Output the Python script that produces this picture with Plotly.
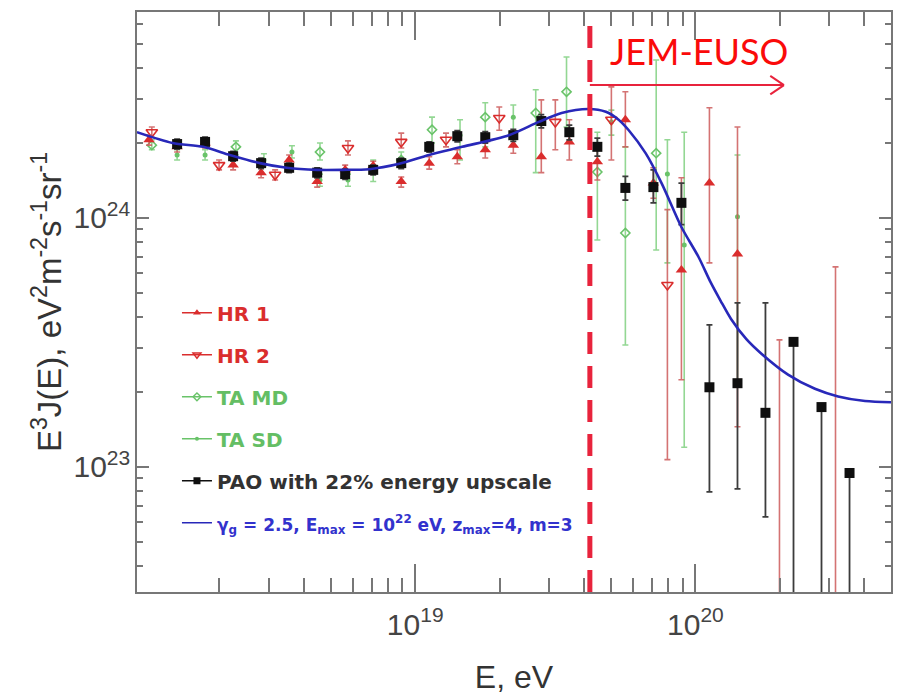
import plotly.graph_objects as go

# ---------------- data ----------------
# Pierre Auger (PAO, with 22% energy upscale)
E_PAO = [1.413e18, 1.778e18, 2.239e18, 2.818e18, 3.548e18, 4.467e18, 5.623e18, 7.079e18, 8.913e18,
         1.122e19, 1.413e19, 1.778e19, 2.239e19, 2.818e19, 3.548e19, 4.467e19, 5.623e19, 7.079e19,
         8.913e19, 1.122e20, 1.413e20, 1.778e20, 2.239e20, 2.818e20, 3.548e20]
J_PAO = [1.98e24, 2.02e24, 1.77e24, 1.66e24, 1.59e24, 1.52e24, 1.50e24, 1.56e24, 1.66e24,
         1.93e24, 2.13e24, 2.11e24, 2.15e24, 2.45e24, 2.21e24, 1.93e24, 1.32e24, 1.33e24,
         1.15e24, 2.09e23, 2.17e23, 1.65e23, 3.18e23, 1.74e23, 9.46e22]
HI_PAO = [2.07e24, 2.11e24, 1.85e24, 1.74e24, 1.66e24, 1.59e24, 1.57e24, 1.63e24, 1.74e24,
          2.02e24, 2.24e24, 2.22e24, 2.27e24, 2.60e24, 2.36e24, 2.09e24, 1.47e24, 1.56e24,
          1.38e24, 3.72e23, 4.56e23, 4.56e23, 3.18e23, 1.74e23, 9.46e22]
LO_PAO = [1.89e24, 1.93e24, 1.69e24, 1.58e24, 1.52e24, 1.45e24, 1.43e24, 1.49e24, 1.58e24,
          1.84e24, 2.02e24, 2.00e24, 2.03e24, 2.30e24, 2.06e24, 1.77e24, 1.18e24, 1.15e24,
          9.40e23, 7.94e22, 8.17e22, 6.30e22, 1.0e21, 1.0e21, 1.0e21]

# HiRes-1
E_HR1 = [1.122e18, 1.413e18, 1.778e18, 2.239e18, 2.818e18, 3.548e18, 4.467e18, 5.623e18, 7.079e18,
         8.913e18, 1.122e19, 1.413e19, 1.778e19, 2.239e19, 2.818e19, 3.548e19, 4.467e19, 5.623e19,
         7.079e19, 8.913e19, 1.122e20, 1.413e20]
J_HR1 = [2.06e24, 1.93e24, 2.00e24, 1.63e24, 1.52e24, 1.71e24, 1.40e24, 1.56e24, 1.62e24,
         1.40e24, 1.66e24, 1.76e24, 1.88e24, 1.96e24, 1.76e24, 2.02e24, 1.68e24, 2.48e24,
         1.38e24, 6.18e23, 1.38e24, 7.17e23]
HI_HR1 = [2.15e24, 2.02e24, 2.10e24, 1.71e24, 1.59e24, 1.79e24, 1.46e24, 1.63e24, 1.69e24,
          1.46e24, 1.76e24, 1.88e24, 2.02e24, 2.11e24, 2.98e24, 2.48e24, 1.96e24, 3.21e24,
          1.59e24, 1.45e24, 2.77e24, 2.32e24]
LO_HR1 = [1.96e24, 1.84e24, 1.91e24, 1.56e24, 1.45e24, 1.63e24, 1.33e24, 1.49e24, 1.54e24,
          1.33e24, 1.57e24, 1.65e24, 1.74e24, 1.82e24, 1.52e24, 1.71e24, 1.42e24, 1.93e24,
          1.20e24, 2.24e23, 6.60e23, 1.45e23]

# HiRes-2
E_HR2 = [1.148e18, 1.995e18, 3.162e18, 5.754e18, 8.913e18, 1.288e19, 1.995e19, 3.162e19,
         5.012e19, 7.943e19, 1.995e20, 3.162e20]
J_HR2 = [2.21e24, 1.63e24, 1.49e24, 1.91e24, 2.02e24, 2.06e24, 2.52e24, 2.43e24,
         2.48e24, 5.38e23, 2.0e22, 2.0e22]
HI_HR2 = [2.32e24, 1.71e24, 1.56e24, 2.04e24, 2.19e24, 2.19e24, 2.79e24, 2.98e24,
          3.36e24, 1.08e24, 3.24e23, 6.36e23]
LO_HR2 = [2.11e24, 1.56e24, 1.42e24, 1.79e24, 1.91e24, 1.93e24, 2.25e24, 1.88e24,
          1.71e24, 1.07e23, 1.0e21, 1.0e21]

# Telescope Array, MD
E_TAMD = [1.148e18, 2.291e18, 4.571e18, 8.913e18, 1.148e19, 1.778e19, 2.692e19, 3.467e19,
          4.467e19, 5.623e19, 7.244e19]
J_TAMD = [1.96e24, 1.93e24, 1.84e24, 1.71e24, 2.26e24, 2.54e24, 2.64e24, 3.21e24,
          1.53e24, 8.70e23, 1.82e24]
HI_TAMD = [2.06e24, 2.04e24, 2.00e24, 1.84e24, 2.54e24, 2.90e24, 3.27e24, 4.43e24,
           2.21e24, 1.93e24, 4.31e24]
LO_TAMD = [1.88e24, 1.79e24, 1.71e24, 1.59e24, 2.00e24, 1.93e24, 1.52e24, 2.32e24,
           8.16e23, 3.09e23, 7.44e23]

# Telescope Array, SD
E_TASD = [1.413e18, 1.778e18, 2.884e18, 3.631e18, 4.571e18, 5.754e18, 7.079e18, 1.445e19,
          2.239e19, 5.012e19, 7.943e19, 9.120e19, 1.413e20]
J_TASD = [1.79e24, 1.79e24, 1.71e24, 1.84e24, 1.42e24, 1.42e24, 1.56e24, 2.15e24,
          2.54e24, 2.43e24, 1.50e24, 7.79e23, 1.01e24]
HI_TASD = [1.88e24, 1.88e24, 1.81e24, 1.95e24, 1.50e24, 1.50e24, 1.71e24, 2.48e24,
           2.84e24, 2.71e24, 2.06e24, 2.21e24, 1.79e24]
LO_TASD = [1.71e24, 1.71e24, 1.62e24, 1.74e24, 1.34e24, 1.34e24, 1.40e24, 1.71e24,
           2.06e24, 2.15e24, 6.60e23, 1.20e23, 2.24e23]

# model curve (gamma_g = 2.5, Emax = 1e22 eV, zmax = 4, m = 3)
E_MODEL = [1.016e18, 1.36e18, 1.75e18, 2.18e18, 2.79e18, 3.48e18, 4.45e18, 5.50e18, 6.85e18,
           8.77e18, 1.12e19, 1.47e19, 2.16e19, 2.76e19, 3.33e19, 4.16e19, 4.79e19, 5.32e19,
           5.78e19, 6.64e19, 7.57e19, 8.91e19, 1.026e20, 1.13e20, 1.23e20, 1.34e20, 1.52e20,
           1.72e20, 2.14e20, 2.67e20, 3.23e20, 4.03e20, 4.99e20]
J_MODEL = [2.21e24, 2.00e24, 1.93e24, 1.79e24, 1.66e24, 1.59e24, 1.56e24, 1.56e24, 1.57e24,
           1.65e24, 1.79e24, 1.93e24, 2.15e24, 2.43e24, 2.64e24, 2.74e24, 2.67e24, 2.48e24,
           2.25e24, 1.82e24, 1.38e24, 9.2e23, 6.97e23, 5.55e23, 4.65e23, 3.93e23, 3.26e23,
           2.85e23, 2.35e23, 2.06e23, 1.92e23, 1.84e23, 1.82e23]

E_JEM = 4.2e19          # JEM-EUSO threshold (dashed line)
E_ARROW_END = 2.07e20   # end of the JEM-EUSO arrow
E_ARROW_BACK = 1.85e20

LEGEND_NAMES = ["HR 1", "HR 2", "TA MD", "TA SD", "PAO with 22% energy upscale",
                "γ<sub>g</sub> = 2.5, E<sub>max</sub> = 10<sup>22</sup> eV, z<sub>max</sub>=4, m=3"]

# ---------------- styles ----------------
RED = "rgb(218,45,45)"
RED_ERR = "rgba(205,90,90,0.85)"
GREEN = "rgb(105,195,105)"
GREEN_ERR = "rgba(120,205,120,0.8)"
BLACK = "rgb(15,15,15)"
BLUE = "rgb(40,40,185)"
LINE_RED = "rgb(232,35,60)"
AXIS = "#777777"

fig = go.Figure()


def err(J, HI, LO):
    return [h - j for h, j in zip(HI, J)], [j - l for j, l in zip(J, LO)]


def add_data(E, J, HI, LO, marker, ecol, ethick=1.6):
    plus, minus = err(J, HI, LO)
    fig.add_trace(go.Scatter(
        x=E, y=J, mode="markers", marker=marker, showlegend=False,
        error_y=dict(type="data", symmetric=False, array=plus, arrayminus=minus,
                     color=ecol, thickness=ethick, width=3),
    ))


add_data(E_TASD, J_TASD, HI_TASD, LO_TASD,
         dict(symbol="circle", size=5, color=GREEN), GREEN_ERR)
add_data(E_TAMD, J_TAMD, HI_TAMD, LO_TAMD,
         dict(symbol="diamond-open", size=7, color=GREEN, line=dict(width=1.6, color=GREEN)), GREEN_ERR)
add_data(E_HR2, J_HR2, HI_HR2, LO_HR2,
         dict(symbol="triangle-down-open", size=10, color=RED, line=dict(width=1.6, color=RED)), RED_ERR)
add_data(E_HR1, J_HR1, HI_HR1, LO_HR1,
         dict(symbol="triangle-up", size=10, color=RED), RED_ERR)
add_data(E_PAO, J_PAO, HI_PAO, LO_PAO,
         dict(symbol="square", size=10, color=BLACK), "rgb(60,60,60)", 1.8)

fig.add_trace(go.Scatter(x=E_MODEL, y=J_MODEL, mode="lines", showlegend=False,
                         line=dict(color=BLUE, width=2.6, shape="spline", smoothing=0.8)))

# legend entries
leg_styles = [
    (RED, dict(symbol="triangle-up", size=7, color=RED), "lines+markers"),
    (RED, dict(symbol="triangle-down-open", size=7, color=RED, line=dict(width=1.4, color=RED)), "lines+markers"),
    (GREEN, dict(symbol="diamond-open", size=6, color=GREEN, line=dict(width=1.4, color=GREEN)), "lines+markers"),
    (GREEN, dict(symbol="circle", size=4, color=GREEN), "lines+markers"),
    (BLACK, dict(symbol="square", size=7, color=BLACK), "lines+markers"),
    (BLUE, None, "lines"),
]
text_cols = [RED, RED, "rgb(100,190,100)", "rgb(100,190,100)", "rgb(50,50,50)", "rgb(50,50,205)"]
text_sizes = [None, None, None, None, None, 17]
for i, (name, (lc, mk, mode), tc, ts) in enumerate(zip(LEGEND_NAMES, leg_styles, text_cols, text_sizes)):
    kw = dict(marker=mk) if mk else {}
    style = f"color:{tc}" + (f";font-size:{ts}px" if ts else "")
    fig.add_trace(go.Scatter(
        x=[None], y=[None], mode=mode, legendgroup=f"g{i}",
        name=f"<b><span style='{style}'>{name}</span></b>",
        line=dict(color=lc, width=1.4), **kw))

# dashed JEM-EUSO threshold line and arrow
fig.add_shape(type="line", xref="x", yref="paper", x0=E_JEM, x1=E_JEM, y0=0.0, y1=0.993,
              line=dict(color=LINE_RED, width=5, dash="22px,12px"))
fig.add_shape(type="line", xref="x", yref="paper", x0=E_JEM, x1=E_ARROW_END, y0=0.874, y1=0.874,
              line=dict(color=LINE_RED, width=2))
fig.add_shape(type="line", xref="x", yref="paper", x0=E_ARROW_BACK, x1=E_ARROW_END, y0=0.890, y1=0.874,
              line=dict(color=LINE_RED, width=2))
fig.add_shape(type="line", xref="x", yref="paper", x0=E_ARROW_BACK, x1=E_ARROW_END, y0=0.858, y1=0.874,
              line=dict(color=LINE_RED, width=2))
fig.add_annotation(text="JEM-EUSO", xref="paper", yref="paper", x=0.745, y=0.933,
                   showarrow=False, xanchor="center", yanchor="middle",
                   font=dict(family="Lato", size=36, color="rgb(250,10,10)"))

axis_common = dict(
    type="log", showline=True, linecolor=AXIS, linewidth=2, mirror="ticks",
    ticks="inside", tickcolor=AXIS, tickwidth=1.6, showgrid=False, zeroline=False,
    dtick=1, exponentformat="power", showexponent="all",
)
fig.update_xaxes(**axis_common, range=[18.007, 20.698], ticklen=28, ticklabelstandoff=6,
                 minor=dict(ticks="inside", ticklen=14, tickcolor=AXIS, tickwidth=1.6, dtick="D1"),
                 tickfont=dict(family="Liberation Sans", size=24, color="#444"),
                 title=dict(text="E, eV", font=dict(family="Liberation Sans", size=32, color="#333"),
                            standoff=26))
fig.update_yaxes(**axis_common, range=[22.498, 24.827], ticklen=12,
                 minor=dict(ticks="inside", ticklen=6, tickcolor=AXIS, tickwidth=1.6, dtick="D1"),
                 tickfont=dict(family="Liberation Sans", size=24, color="#444"),
                 title=dict(text="E<sup>3</sup>J(E), eV<sup>2</sup>m<sup>-2</sup>s<sup>-1</sup>sr<sup>-1</sup>",
                            font=dict(family="Liberation Sans", size=33, color="#333"),
                            standoff=2))

fig.update_layout(
    width=899, height=698, autosize=False,
    margin=dict(l=137, r=6, t=12, b=106),
    paper_bgcolor="white", plot_bgcolor="white",
    showlegend=True,
    legend=dict(x=0.053, y=0.515, xanchor="left", yanchor="top", bgcolor="rgba(0,0,0,0)",
                traceorder="grouped", tracegroupgap=13, itemwidth=30,
                font=dict(family="DejaVu Sans", size=20, color="#333")),
)

fig.write_html("out.html", config=dict(displayModeBar=False))
